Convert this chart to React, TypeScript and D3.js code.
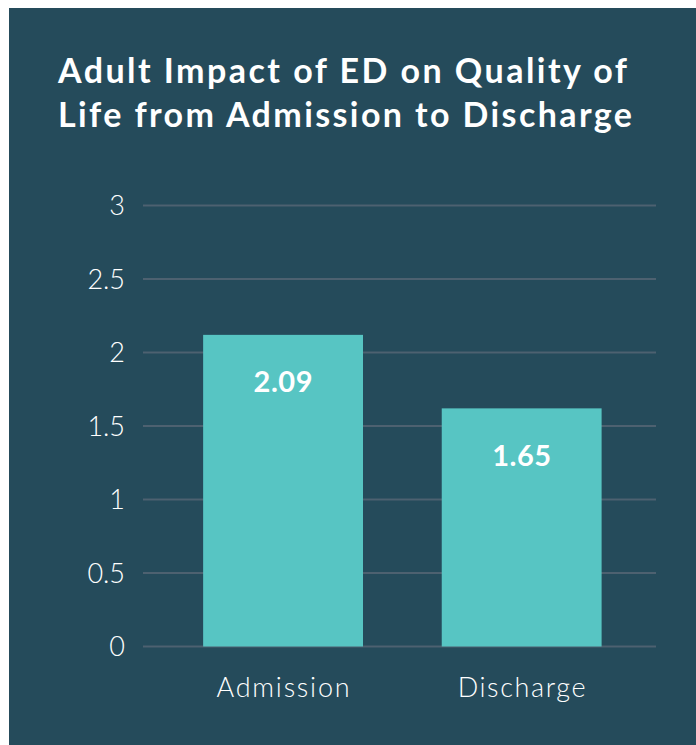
import React from "react";
import * as d3 from "d3";

const categories: string[] = ["Admission", "Discharge"];
const barValues: number[] = [2.12, 1.62];
const barLabels: string[] = ["2.09", "1.65"];
const yTicks: number[] = [0, 0.5, 1, 1.5, 2, 2.5, 3];
const yTickLabels: string[] = ["0", "0.5", "1", "1.5", "2", "2.5", "3"];
const titleLines: string[] = ["Adult Impact of ED on Quality of", "Life from Admission to Discharge"];

const W = 696;
const H = 745;

export default function App() {
  const y = d3.scaleLinear().domain([0, 3]).range([646.5, 205.5]);
  const x = d3
    .scaleBand<string>()
    .domain(categories)
    .range([139, 652])
    .paddingInner(0.33)
    .paddingOuter(0.24)
    .align(0.56);

  const font = "Lato, 'Open Sans', sans-serif";
  const titleWidths = [569, 574];
  const catWidths = [133, 128];

  return (
    <svg
      width={W}
      height={H}
      style={{ position: "absolute", left: 0, top: 0, display: "block" }}
    >
      <rect x={0} y={0} width={W} height={H} fill="#ffffff" />
      <rect x={9} y={8} width={W - 9} height={H - 8} fill="#254b5b" />
      {titleLines.map((t, i) => (
        <text
          key={i}
          x={58}
          y={83 + i * 44}
          fill="#ffffff"
          fontFamily={font}
          fontWeight={700}
          fontSize={34}
          textLength={titleWidths[i]}
          lengthAdjust="spacing"
        >
          {t}
        </text>
      ))}
      {yTicks.map((v, i) => (
        <g key={v}>
          <line
            x1={143}
            x2={656}
            y1={y(v)}
            y2={y(v)}
            stroke="#4d6170"
            strokeWidth={2}
          />
          <text
            x={125}
            y={y(v)}
            dy="0.36em"
            textAnchor="end"
            fill="#ffffff"
            fontFamily={font}
            fontWeight={300}
            fontSize={27}
          >
            {yTickLabels[i]}
          </text>
        </g>
      ))}
      {categories.map((c, i) => {
        const bx = x(c) as number;
        const bw = x.bandwidth();
        const top = y(barValues[i]);
        return (
          <g key={c}>
            <rect
              x={bx}
              y={top}
              width={bw}
              height={y(0) - top}
              fill="#57c5c3"
            />
            <text
              x={bx + bw / 2}
              y={top + 47}
              dy="0.36em"
              textAnchor="middle"
              fill="#ffffff"
              fontFamily={font}
              fontWeight={700}
              fontSize={29}
              textLength={59}
              lengthAdjust="spacing"
            >
              {barLabels[i]}
            </text>
            <text
              x={bx + bw / 2}
              y={697}
              textAnchor="middle"
              fill="#ffffff"
              fontFamily={font}
              fontWeight={300}
              fontSize={27}
              textLength={catWidths[i]}
              lengthAdjust="spacing"
            >
              {c}
            </text>
          </g>
        );
      })}
    </svg>
  );
}
